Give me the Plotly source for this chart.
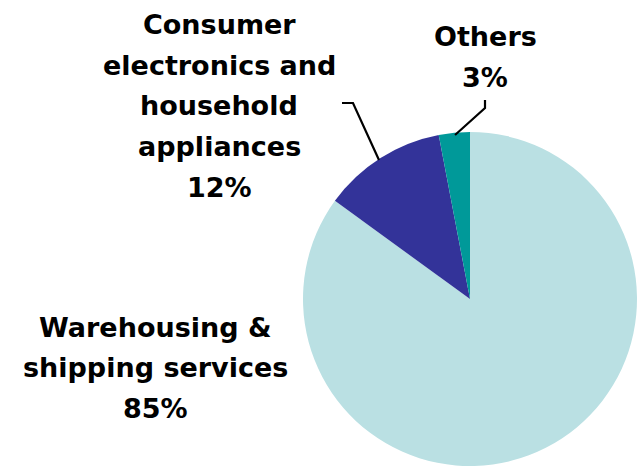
import plotly.graph_objects as go

# Revenue split by business segment (clockwise from 12 o'clock)
segments = ["Warehousing &<br>shipping services", "Consumer<br>electronics and<br>household<br>appliances", "Others"]
shares = [85, 12, 3]
colors = ["#BAE0E3", "#333399", "#009999"]

# Label anchors (pixel centre x, first-line centre y) for each segment
label_anchor = [(155, 327), (219, 25), (485, 37)]
LINE_STEP = 40.5

W, H = 639, 466
CX, CY, R = 470, 299, 167


def px(x):
    return x / W


def py(y):
    return 1 - y / H


fig = go.Figure(
    go.Pie(
        labels=[s.replace("<br>", " ") for s in segments],
        values=shares,
        sort=False,
        direction="clockwise",
        rotation=0,
        marker=dict(colors=colors, line=dict(width=0)),
        textinfo="none",
        hoverinfo="skip",
        domain=dict(x=[px(CX - R), px(CX + R)], y=[py(CY + R), py(CY - R)]),
    )
)

annotations = []
for name, val, (cx, cy) in zip(segments, shares, label_anchor):
    lines = name.split("<br>") + [f"{val}%"]
    for i, line in enumerate(lines):
        annotations.append(
            dict(
                x=px(cx),
                y=py(cy + i * LINE_STEP),
                xref="paper",
                yref="paper",
                text=line,
                showarrow=False,
                xanchor="center",
                yanchor="middle",
                font=dict(family="DejaVu Sans", size=27, color="black", weight="bold"),
            )
        )

# Leader lines from labels to their slices
leaders = [
    [(485, 100), (485, 108), (455, 135)],
    [(342, 103), (353, 103), (379, 160)],
]
shapes = []
for pts in leaders:
    path = "M " + " L ".join(f"{px(x):.4f},{py(y):.4f}" for x, y in pts)
    shapes.append(
        dict(type="path", xref="paper", yref="paper", path=path,
             line=dict(color="black", width=2.2))
    )

fig.update_layout(
    width=W,
    height=H,
    margin=dict(l=0, r=0, t=0, b=0),
    showlegend=False,
    paper_bgcolor="white",
    plot_bgcolor="white",
    annotations=annotations,
    shapes=shapes,
)

fig.write_html("out.html")
